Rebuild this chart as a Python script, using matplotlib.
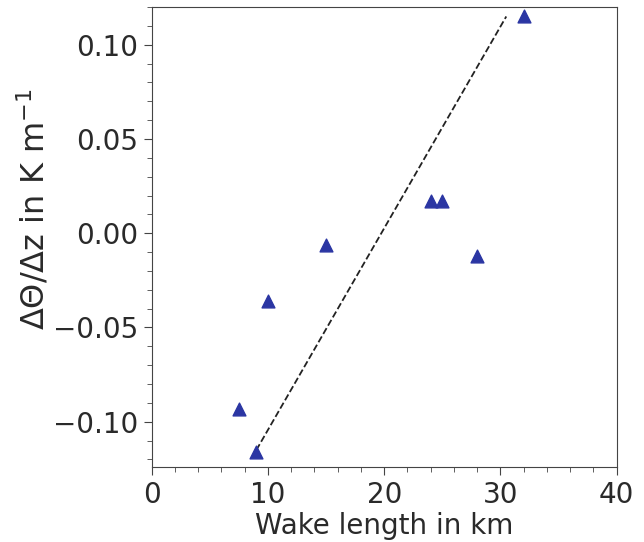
import numpy as np
import matplotlib
matplotlib.use('Agg')
import matplotlib.pyplot as plt

# wake length (km) and potential temperature gradient (K/m)
wake_length = [7.5, 9.0, 10.0, 15.0, 24.0, 25.0, 28.0, 32.0]
dtheta_dz = [-0.093, -0.116, -0.036, -0.006, 0.017, 0.017, -0.012, 0.115]

# dashed fit line end points
fit_x = [9.0, 30.5]
fit_y = [-0.115, 0.115]


def main():
    plt.rcParams['font.size'] = 20
    plt.rcParams['axes.unicode_minus'] = True
    fig = plt.figure(figsize=(6.44, 5.42), dpi=100)
    ax = fig.add_axes([0.2356, 0.1384, 0.722, 0.8486])

    ax.scatter(wake_length, dtheta_dz, marker='^', s=85, color='#2b36a3', zorder=3)
    ax.plot(fit_x, fit_y, linestyle='--', color='#222222', linewidth=1.3)

    ax.set_xlim(0, 40)
    ax.set_ylim(-0.124, 0.12)
    ax.set_xticks([0, 10, 20, 30, 40])
    ax.set_yticks([-0.10, -0.05, 0.00, 0.05, 0.10])
    ax.set_yticklabels(['\u22120.10', '\u22120.05', '0.00', '0.05', '0.10'])
    ax.xaxis.set_minor_locator(matplotlib.ticker.MultipleLocator(2))
    ax.yaxis.set_minor_locator(matplotlib.ticker.MultipleLocator(0.01))

    for sp in ax.spines.values():
        sp.set_color('#444444')
    ax.tick_params(which='both', colors='#444444', labelcolor='#2a2a2a')
    ax.tick_params(which='major', length=6, pad=4)
    ax.tick_params(which='minor', length=3.5)

    ax.set_xlabel('Wake length in km', color='#2a2a2a', labelpad=2)
    ax.set_ylabel('\u0394\u0398/\u0394z in K m$^{-1}$', color='#2a2a2a', fontsize=23)
    ax.yaxis.set_label_coords(-0.216, 0.56)

    fig.savefig('out.png', dpi=100)


if __name__ == '__main__':
    main()
